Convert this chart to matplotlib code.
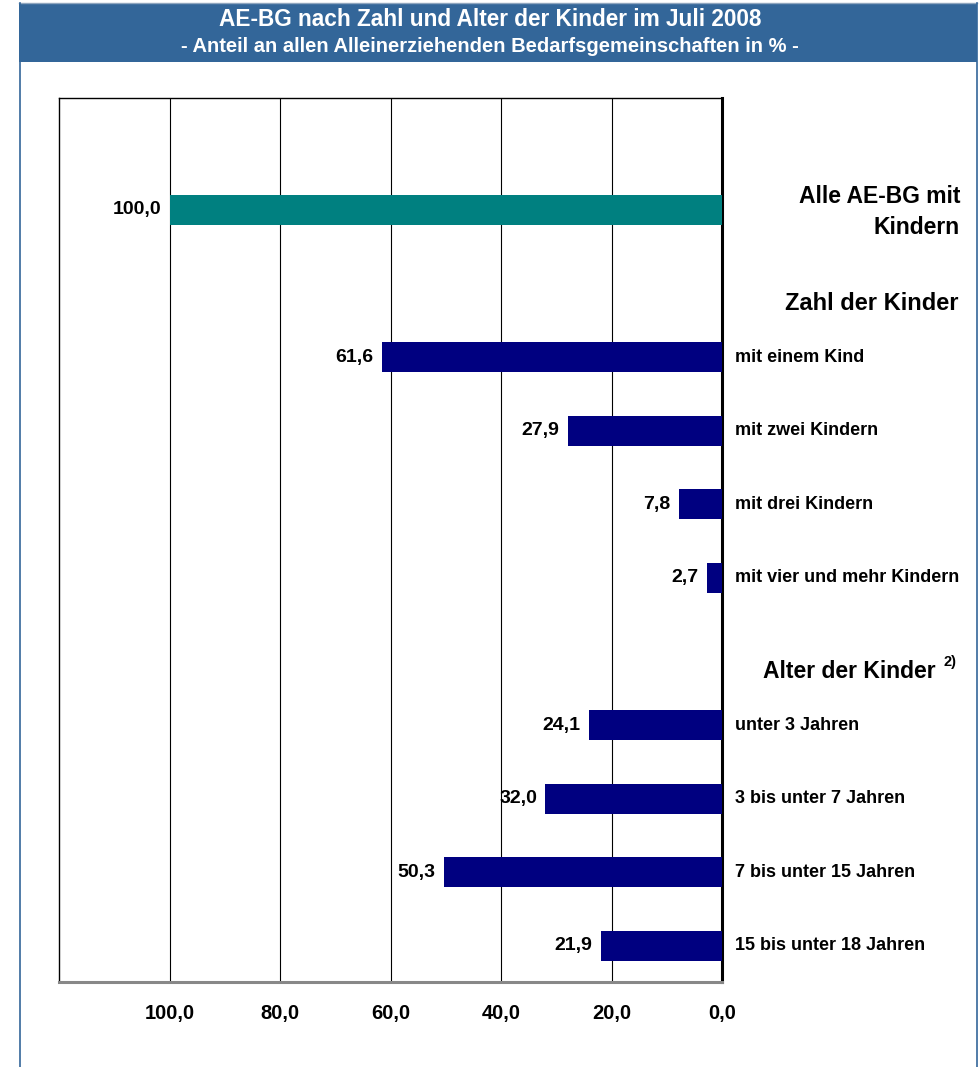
import numpy as np
import matplotlib.pyplot as plt
from matplotlib.patches import Rectangle
from matplotlib.lines import Line2D

plt.rcParams['font.family'] = ['Liberation Sans', 'DejaVu Sans']
plt.rcParams['font.weight'] = 'bold'

# data
title = 'AE-BG nach Zahl und Alter der Kinder im Juli 2008'
subtitle = '- Anteil an allen Alleinerziehenden Bedarfsgemeinschaften in % -'
row_pos = [0, 2, 3, 4, 5, 7, 8, 9, 10]
labels = ['', 'mit einem Kind', 'mit zwei Kindern', 'mit drei Kindern',
          'mit vier und mehr Kindern', 'unter 3 Jahren', '3 bis unter 7 Jahren',
          '7 bis unter 15 Jahren', '15 bis unter 18 Jahren']
values = [100.0, 61.6, 27.9, 7.8, 2.7, 24.1, 32.0, 50.3, 21.9]
bar_colors = ['#008080'] + ['#000080'] * 8
ticks = [100, 80, 60, 40, 20, 0]

W, H = 980, 1067
fig = plt.figure(figsize=(W / 100, H / 100), dpi=100)

def fx(px):
    return px / W

def fy(py):
    return 1 - py / H

# frame and header band
fig.add_artist(Rectangle((fx(19), fy(62)), fx(977) - fx(19), fy(3) - fy(62),
                         transform=fig.transFigure, facecolor='#336699',
                         edgecolor='none'))
fig.add_artist(Line2D([fx(19), fx(977)], [fy(3), fy(3)], transform=fig.transFigure,
                      color='#8fa6bf', lw=1))
for x in (19.5, 976.5):
    fig.add_artist(Line2D([fx(x), fx(x)], [fy(3), 0], transform=fig.transFigure,
                          color='#336699', lw=1.2))
fig.text(0.5, fy(19), title, color='white', fontsize=16.3, fontweight='bold',
         ha='center', va='center')
fig.text(0.5, fy(46), subtitle, color='white', fontsize=14.5, fontweight='bold',
         ha='center', va='center')

ax = fig.add_axes([fx(59), fy(982), fx(722) - fx(59), fy(98) - fy(982)])
ax.barh(row_pos, values, height=0.41, color=bar_colors, zorder=3)
ax.set_xlim(120, 0)
ax.set_ylim(10.49, -1.52)
ax.set_xticks(ticks)
ax.set_xticklabels([f'{t:.1f}'.replace('.', ',') for t in ticks],
                   fontsize=14.5, fontweight='bold')
ax.tick_params(axis='x', length=0, pad=15.5)
ax.set_yticks([])
for t in ticks[:-1]:
    ax.axvline(t, color='black', lw=0.8, zorder=1)
for s in ('left', 'top'):
    ax.spines[s].set_linewidth(1)
ax.spines['right'].set_linewidth(2.2)
ax.spines['bottom'].set_color('#888888')
ax.spines['bottom'].set_linewidth(2.2)

for y, v, lab in zip(row_pos, values, labels):
    ax.text(v + 1.5, y, f'{v:.1f}'.replace('.', ','), ha='right', va='center',
            fontsize=14, fontweight='bold', zorder=4)
    if lab:
        ax.text(-2.3, y, lab, ha='left', va='center', fontsize=13,
                fontweight='bold', clip_on=False)

fig.text(fx(960), fy(212), 'Alle AE-BG mit\nKindern', ha='right', va='center',
         fontsize=16.5, fontweight='bold', linespacing=1.4)
fig.text(fx(958), fy(303), 'Zahl der Kinder', ha='right', va='center',
         fontsize=17, fontweight='bold')
fig.text(fx(936), fy(672), 'Alter der Kinder', ha='right', va='center',
         fontsize=16.5, fontweight='bold')
fig.text(fx(943), fy(662), '2)', ha='left', va='center',
         fontsize=10.5, fontweight='bold')

fig.savefig('out.png', dpi=100)
